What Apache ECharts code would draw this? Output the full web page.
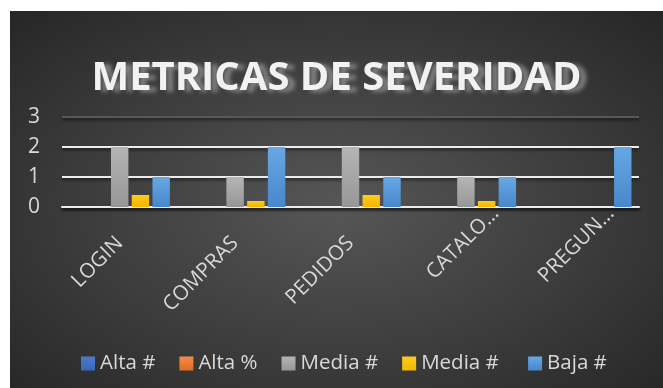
<!DOCTYPE html>
<html>
<head>
<meta charset="utf-8">
<script src="https://cdn.jsdelivr.net/npm/echarts@6/dist/echarts.min.js"></script>
<style>
  html, body { margin: 0; padding: 0; background: #ffffff; }
  #frame {
    position: absolute; left: 10px; top: 11px; width: 653px; height: 377px;
    background: radial-gradient(ellipse farthest-corner at 50% 52%, #565656 0%, #3c3c3c 55%, #262626 100%);
  }
  #chart { width: 653px; height: 377px; }
</style>
</head>
<body>
<div id="frame"><div id="chart"></div></div>
<script>
// Categories and series values
const categories = ['LOGIN', 'COMPRAS', 'PEDIDOS', 'CATALO…', 'PREGUN…'];
const altaNum   = [0, 0, 0, 0, 0];
const altaPct   = [0, 0, 0, 0, 0];
const mediaNum  = [2, 1, 2, 1, 0];
const mediaPct  = [0.4, 0.2, 0.4, 0.2, 0];
const bajaNum   = [1, 2, 1, 1, 2];
const yTicks    = [0, 1, 2, 3];
const seriesNames = ['Alta #', 'Alta %', 'Media #', 'Media # ', 'Baja #'];

const FONT = '"Open Sans", "Noto Sans", sans-serif';
const LABEL = '#d9d9d9';

function grad(top, bottom) {
  return new echarts.graphic.LinearGradient(0, 0, 0, 1, [
    { offset: 0, color: top }, { offset: 1, color: bottom }
  ]);
}

const colors = [
  grad('#4a7bd0', '#3b66b6'),
  grad('#f68a46', '#e06d22'),
  grad('#b5b5b5', '#979797'),
  grad('#ffcb1f', '#f2b700'),
  grad('#67a8e4', '#4787cb')
];
const seriesData = [altaNum, altaPct, mediaNum, mediaPct, bajaNum];

// truncated category names sit a little further along the diagonal
const axisCategories = categories.map(c =>
  c.endsWith('…') ? { value: c, textStyle: { padding: [0, -42, 0, 0] } } : c
);

const chart = echarts.init(document.getElementById('chart'), null, { renderer: 'canvas' });

chart.setOption({
  backgroundColor: 'transparent',
  animation: false,
  title: {
    text: 'METRICAS DE SEVERIDAD',
    left: 'center',
    top: 43,
    textStyle: {
      fontFamily: FONT,
      fontWeight: 'bold',
      fontSize: 40,
      color: '#f2f2f2',
      textShadowColor: 'rgba(175,175,175,0.6)',
      textShadowBlur: 4,
      textShadowOffsetX: 7,
      textShadowOffsetY: 2
    }
  },
  legend: {
    data: seriesNames,
    left: 66,
    top: 337,
    icon: 'rect',
    itemWidth: 14,
    itemHeight: 14,
    itemGap: 24,
    textStyle: { color: LABEL, fontFamily: FONT, fontSize: 20.5 }
  },
  grid: { left: 52, right: 24, top: 106, height: 90, containLabel: false },
  xAxis: {
    type: 'category',
    data: axisCategories,
    axisTick: { show: false },
    axisLine: {
      lineStyle: { color: '#ececec', width: 2, shadowColor: 'rgba(0,0,0,0.6)', shadowBlur: 3, shadowOffsetY: 2 }
    },
    axisLabel: {
      rotate: 45,
      margin: 33,
      interval: 0,
      color: LABEL,
      fontFamily: FONT,
      fontSize: 20.5
    }
  },
  yAxis: {
    type: 'value',
    min: yTicks[0],
    max: yTicks[yTicks.length - 1],
    interval: 1,
    axisLine: { show: false },
    axisTick: { show: false },
    axisLabel: { color: LABEL, fontFamily: FONT, fontSize: 21, margin: 22 },
    splitLine: {
      lineStyle: {
        color: ['#ececec', '#ececec', '#ececec', '#585858'],
        width: 2,
        shadowColor: 'rgba(0,0,0,0.6)', shadowBlur: 3, shadowOffsetY: 2
      }
    }
  },
  series: seriesData.map((d, i) => ({
    name: seriesNames[i],
    type: 'bar',
    data: d,
    barGap: '19%',
    barCategoryGap: '13%',
    itemStyle: { color: colors[i] }
  }))
});
</script>
</body>
</html>
